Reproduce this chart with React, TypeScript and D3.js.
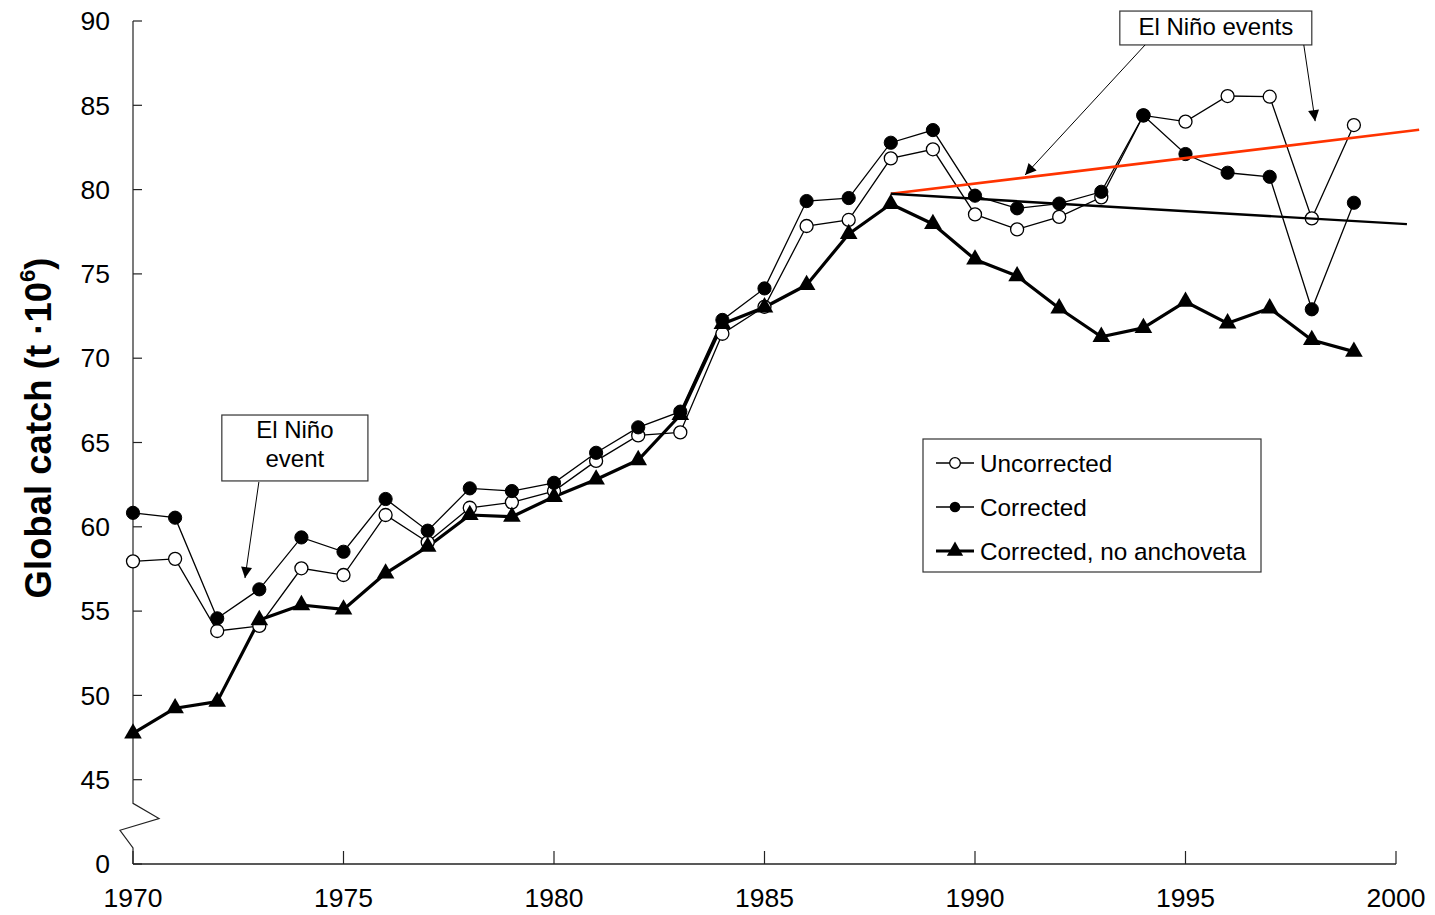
import React from "react";
import * as d3 from "d3";

// Global marine catch, millions of tonnes
const years = [
  1970, 1971, 1972, 1973, 1974, 1975, 1976, 1977, 1978, 1979,
  1980, 1981, 1982, 1983, 1984, 1985, 1986, 1987, 1988, 1989,
  1990, 1991, 1992, 1993, 1994, 1995, 1996, 1997, 1998, 1999,
];
const uncorrected = [
  57.95, 58.1, 53.82, 54.12, 57.54, 57.14, 60.7, 59.08, 61.13, 61.45,
  62.12, 63.91, 65.42, 65.6, 71.45, 73.05, 77.84, 78.2, 81.85, 82.39,
  78.53, 77.64, 78.38, 79.54, 84.4, 84.03, 85.55, 85.51, 78.29, 83.83,
];
const corrected = [
  60.83, 60.54, 54.57, 56.29, 59.37, 58.52, 61.65, 59.77, 62.28, 62.12,
  62.61, 64.39, 65.9, 66.83, 72.27, 74.14, 79.32, 79.5, 82.78, 83.53,
  79.64, 78.89, 79.17, 79.87, 84.4, 82.11, 81.0, 80.76, 72.9, 79.22,
];
const noAnchoveta = [
  47.75, 49.24, 49.63, 54.47, 55.36, 55.1, 57.24, 58.82, 60.7, 60.6,
  61.78, 62.81, 63.96, 66.63, 72.03, 73.02, 74.34, 77.37, 79.15, 77.96,
  75.86, 74.87, 72.96, 71.27, 71.8, 73.35, 72.07, 72.96, 71.08, 70.39,
];

// Trend lines from 1988 onward: [year, value] end points
const trendUp: [number, number][] = [[1988, 79.75], [2000.55, 83.55]];
const trendDown: [number, number][] = [[1988, 79.75], [2000.26, 77.95]];

const xTicks = [1970, 1975, 1980, 1985, 1990, 1995, 2000];
const yTicks = [40, 45, 50, 55, 60, 65, 70, 75, 80, 85, 90];
const yTickLabels = ["0", "45", "50", "55", "60", "65", "70", "75", "80", "85", "90"];

const legendLabels = ["Uncorrected", "Corrected", "Corrected, no anchoveta"];

const W = 1435;
const H = 915;
const FONT = "Arial, 'Liberation Sans', Helvetica, sans-serif";

export default function App() {
  const x = d3.scaleLinear().domain([1970, 2000]).range([133, 1396]);
  const y = d3.scaleLinear().domain([40, 90]).range([864, 21]);

  const line = d3
    .line<number>()
    .x((_, i) => x(years[i]))
    .y((d) => y(d));
  const seg = d3
    .line<[number, number]>()
    .x((d) => x(d[0]))
    .y((d) => y(d[1]));

  const tri = d3.symbol().type(d3.symbolTriangle).size(135)() as string;
  const triLegend = d3.symbol().type(d3.symbolTriangle).size(115)() as string;

  const axisX = x(1970);
  const axisY = y(40);
  const axisColor = "#222";

  // axis break zig-zag between 45 and the baseline
  const brk: [number, number][] = [
    [axisX, y(45)],
    [axisX, y(43.6)],
    [axisX + 26, y(42.7)],
    [axisX - 13, y(42.0)],
    [axisX, y(40.95)],
    [axisX, axisY],
  ];

  // annotation geometry in data units
  const box1 = { x0: 1972.11, x1: 1975.58, y0: 66.63, y1: 62.72 };
  const box2 = { x0: 1993.44, x1: 1998.0, y0: 90.59, y1: 88.58 };
  const arrows: [number, number, number, number][] = [
    [1972.99, 62.66, 1972.66, 56.96],
    [1994.04, 88.58, 1991.19, 80.87],
    [1997.81, 88.58, 1998.08, 84.06],
  ];

  const legendRows = [463, 507, 551];

  return (
    <svg
      width={W}
      height={H}
      style={{ position: "absolute", left: 0, top: 0, background: "#fff" }}
      fontFamily={FONT}
    >
      <defs>
        <marker
          id="arrowHead"
          viewBox="0 0 10 10"
          refX="10"
          refY="5"
          markerWidth="14"
          markerHeight="11"
          markerUnits="userSpaceOnUse"
          orient="auto"
        >
          <path d="M0,0 L10,5 L0,10 Z" fill="#000" />
        </marker>
      </defs>

      {/* y axis with break */}
      <path
        d={d3.line()(brk) as string}
        fill="none"
        stroke={axisColor}
        strokeWidth={1.2}
      />
      <line x1={axisX} x2={axisX} y1={y(90)} y2={y(45)} stroke={axisColor} strokeWidth={1.2} />
      {yTicks.map((t, i) => (
        <g key={t}>
          <line x1={axisX} x2={axisX + 9} y1={y(t)} y2={y(t)} stroke={axisColor} strokeWidth={1.2} />
          <text x={110} y={y(t)} dy="0.35em" textAnchor="end" fontSize={26.5} fill="#000">
            {yTickLabels[i]}
          </text>
        </g>
      ))}

      {/* x axis */}
      <line x1={axisX} x2={x(2000)} y1={axisY} y2={axisY} stroke={axisColor} strokeWidth={1.4} />
      {xTicks.map((t) => (
        <g key={t}>
          <line x1={x(t)} x2={x(t)} y1={axisY} y2={axisY - 13} stroke={axisColor} strokeWidth={1.2} />
          <text x={x(t)} y={907} textAnchor="middle" fontSize={26.5} fill="#000">
            {t}
          </text>
        </g>
      ))}

      {/* y axis title */}
      <text
        transform={`translate(51, 428) rotate(-90)`}
        textAnchor="middle"
        fontSize={36.5}
        fontWeight="bold"
        fill="#000"
      >
        Global catch (t ·10
        <tspan fontSize={22} dy={-16}>6</tspan>
        <tspan dy={16}>)</tspan>
      </text>

      {/* series lines */}
      <path d={line(uncorrected) as string} fill="none" stroke="#000" strokeWidth={1.3} />
      <path d={line(corrected) as string} fill="none" stroke="#000" strokeWidth={1.3} />
      <path d={line(noAnchoveta) as string} fill="none" stroke="#000" strokeWidth={3.2} strokeLinejoin="round" />

      {uncorrected.map((v, i) => (
        <circle key={`u${i}`} cx={x(years[i])} cy={y(v)} r={6.5} fill="#fff" stroke="#000" strokeWidth={1.3} />
      ))}
      {corrected.map((v, i) => (
        <circle key={`c${i}`} cx={x(years[i])} cy={y(v)} r={6.6} fill="#000" stroke="#000" strokeWidth={1} />
      ))}
      {noAnchoveta.map((v, i) => (
        <path key={`t${i}`} d={tri} transform={`translate(${x(years[i])},${y(v)})`} fill="#000" />
      ))}

      {/* trend lines */}
      <path d={seg(trendUp) as string} fill="none" stroke="#ff3300" strokeWidth={2.6} />
      <path d={seg(trendDown) as string} fill="none" stroke="#000" strokeWidth={2.4} />

      {/* annotations */}
      <rect
        x={x(box1.x0)}
        y={y(box1.y0)}
        width={x(box1.x1) - x(box1.x0)}
        height={y(box1.y1) - y(box1.y0)}
        fill="#fff"
        stroke="#333"
        strokeWidth={1.2}
      />
      <text x={(x(box1.x0) + x(box1.x1)) / 2} y={y(box1.y0) + 23} textAnchor="middle" fontSize={24}>
        El Niño
      </text>
      <text x={(x(box1.x0) + x(box1.x1)) / 2} y={y(box1.y0) + 52} textAnchor="middle" fontSize={24}>
        event
      </text>

      <rect
        x={x(box2.x0)}
        y={y(box2.y0)}
        width={x(box2.x1) - x(box2.x0)}
        height={y(box2.y1) - y(box2.y0)}
        fill="#fff"
        stroke="#333"
        strokeWidth={1.2}
      />
      <text x={(x(box2.x0) + x(box2.x1)) / 2} y={y(box2.y0) + 24} textAnchor="middle" fontSize={24}>
        El Niño events
      </text>

      {arrows.map((a, i) => (
        <line
          key={`a${i}`}
          x1={x(a[0])}
          y1={y(a[1])}
          x2={x(a[2])}
          y2={y(a[3])}
          stroke="#000"
          strokeWidth={1}
          markerEnd="url(#arrowHead)"
        />
      ))}

      {/* legend */}
      <rect x={923} y={439} width={338} height={133} fill="#fff" stroke="#333" strokeWidth={1.2} />
      {legendLabels.map((lab, i) => {
        const cy = legendRows[i];
        return (
          <g key={lab}>
            <line x1={936} x2={974} y1={cy} y2={cy} stroke="#000" strokeWidth={i === 2 ? 3.2 : 1.3} />
            {i === 0 && <circle cx={955} cy={cy} r={5.3} fill="#fff" stroke="#000" strokeWidth={1.3} />}
            {i === 1 && <circle cx={955} cy={cy} r={5.3} fill="#000" />}
            {i === 2 && <path d={triLegend} transform={`translate(955,${cy})`} fill="#000" />}
            <text x={980} y={cy} dy="0.35em" fontSize={24.3} fill="#000">
              {lab}
            </text>
          </g>
        );
      })}
    </svg>
  );
}
